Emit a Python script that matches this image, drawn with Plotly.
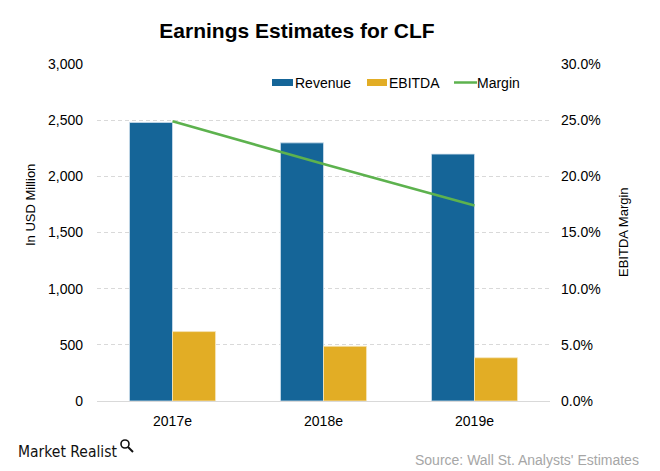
import plotly.graph_objects as go

categories = ["2017e", "2018e", "2019e"]
revenue = [2480, 2298, 2198]
ebitda = [618, 487, 385]
margin = [0.249, 0.211, 0.174]

y_ticks = [0, 500, 1000, 1500, 2000, 2500, 3000]
y2_ticks = [0, 0.05, 0.10, 0.15, 0.20, 0.25, 0.30]

FONT = "Liberation Sans, Arial, sans-serif"
REV_C = "#156598"
EB_C = "#e2ad25"
MG_C = "#5db24e"

fig = go.Figure()
fig.add_trace(go.Bar(name="Revenue", x=categories, y=revenue,
                     marker=dict(color=REV_C, line=dict(color="#cfe0ee", width=0.8))))
fig.add_trace(go.Bar(name="EBITDA", x=categories, y=ebitda,
                     marker=dict(color=EB_C, line=dict(color="#f6e6bd", width=0.8))))
fig.add_trace(go.Scatter(name="Margin", x=categories, y=margin, yaxis="y2",
                         mode="lines", line=dict(color=MG_C, width=2.5)))

L, R, T, B = 97, 550, 64, 401


def px_x(p):
    return (p - L) / (R - L)


def px_y(p):
    return (B - p) / (B - T)


fig.update_layout(
    width=660, height=471,
    margin=dict(l=L, r=660 - R, t=T, b=471 - B),
    paper_bgcolor="white", plot_bgcolor="white",
    font=dict(family=FONT, size=14, color="#000000"),
    barmode="group", bargap=0.43, bargroupgap=0,
    title=dict(text="<b>Earnings Estimates for CLF</b>", x=297/660, xanchor="center",
               y=1 - 31/471, yanchor="middle", font=dict(size=21, color="#000")),
    showlegend=False,
    xaxis=dict(showgrid=False, showline=False, ticks="", tickfont=dict(size=14),
               ticklabelstandoff=10),
    yaxis=dict(range=[0, 3000], tickvals=y_ticks, tickformat=",", showgrid=True,
               gridcolor="#d9d9d9", griddash="4px,3px", gridwidth=1, zeroline=True,
               zerolinecolor="#d9d9d9", zerolinewidth=1, ticks="", showline=False,
               tickfont=dict(size=14), ticklabelstandoff=13),
    yaxis2=dict(range=[0, 0.30], tickvals=y2_ticks, tickformat=".1%", overlaying="y",
                side="right", showgrid=False, zeroline=False, ticks="", showline=False,
                tickfont=dict(size=14), ticklabelstandoff=10),
)

# manual legend
fig.add_shape(type="rect", xref="paper", yref="paper", x0=px_x(272), x1=px_x(293),
              y0=px_y(86), y1=px_y(79), fillcolor=REV_C, line=dict(width=0))
fig.add_shape(type="rect", xref="paper", yref="paper", x0=px_x(367), x1=px_x(387),
              y0=px_y(86), y1=px_y(79), fillcolor=EB_C, line=dict(width=0))
fig.add_shape(type="line", xref="paper", yref="paper", x0=px_x(454), x1=px_x(477),
              y0=px_y(82.5), y1=px_y(82.5), line=dict(color=MG_C, width=2.5))
for txt, xp in [("Revenue", 295), ("EBITDA", 389), ("Margin", 477)]:
    fig.add_annotation(text=txt, xref="paper", yref="paper", x=px_x(xp), y=px_y(83),
                       showarrow=False, xanchor="left", yanchor="middle",
                       xshift=-2, font=dict(size=14, color="#000"))

fig.add_annotation(text="In USD Million", xref="paper", yref="paper",
                   x=px_x(30), y=px_y(205), textangle=-90, showarrow=False,
                   font=dict(size=13, color="#000"), xanchor="center", yanchor="middle")
fig.add_annotation(text="EBITDA Margin", xref="paper", yref="paper",
                   x=px_x(623), y=px_y(232), textangle=-90, showarrow=False,
                   font=dict(size=13, color="#000"), xanchor="center", yanchor="middle")
fig.add_annotation(text="Market Realist", xref="paper", yref="paper",
                   x=px_x(16), y=px_y(452), showarrow=False,
                   xanchor="left", yanchor="middle",
                   font=dict(size=15.5, color="#111", family="DejaVu Sans Condensed, Liberation Sans Narrow, sans-serif"))
fig.add_annotation(text="Source: Wall St. Analysts' Estimates", xref="paper", yref="paper",
                   x=px_x(641), y=px_y(460), showarrow=False,
                   xanchor="right", yanchor="middle",
                   font=dict(size=14, color="#a6a6a6"))

# magnifier icon next to logo
fig.add_shape(type="circle", xref="paper", yref="paper",
              x0=px_x(121), x1=px_x(129), y0=px_y(448), y1=px_y(440),
              line=dict(color="#111", width=1.6))
fig.add_shape(type="line", xref="paper", yref="paper",
              x0=px_x(128), x1=px_x(133), y0=px_y(447), y1=px_y(452),
              line=dict(color="#111", width=2))

fig.write_html("out.html", config={"displayModeBar": False},
               post_script="document.body.style.margin='0';")
